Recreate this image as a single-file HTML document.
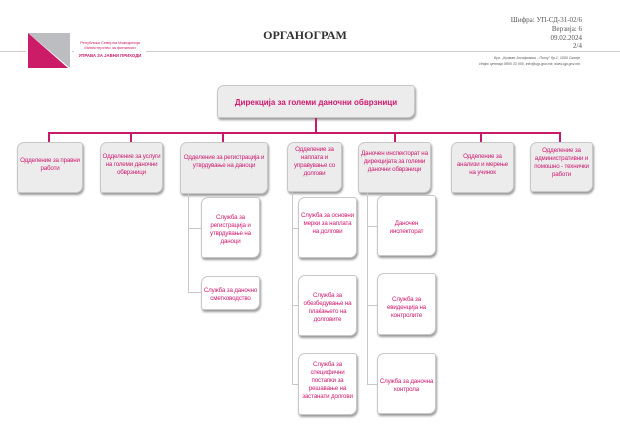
<!DOCTYPE html>
<html><head><meta charset="utf-8"><style>
body{margin:0;width:620px;height:438px;background:#fff;position:relative;overflow:hidden;font-family:"Liberation Sans",sans-serif}
.a{position:absolute}
.b{position:absolute;background:#ececec;border:1px solid #c8c8c8;border-radius:7px 3px 7px 3px;box-shadow:1px 2px 2px #999;color:#d0186e;font-size:6.2px;letter-spacing:-0.15px;line-height:8px;text-align:center;box-sizing:border-box;padding:0 1px}
.w{background:#fff}
.l{position:absolute;background:#c8c8c8}
.p{position:absolute;background:#c81a6a}
.r{position:absolute;right:38px;font-family:"Liberation Serif",serif;font-size:7px;color:#555;text-align:right}
</style></head><body>
<div class="a" style="left:0;top:51px;width:620px;height:1px;background:#ccc"></div>
<svg class="a" style="left:26px;top:31px" width="46" height="39"><rect width="46" height="39" fill="#fff"/><polygon points="2,2 44,2 44,37" fill="#bcbdc0"/><polygon points="2,2 2,37 42,37" fill="#cc1c68"/></svg>
<div class="a" style="left:74px;top:40px;width:72px;height:18px;background:#fff"></div>
<div class="a" style="left:78px;top:41px;font-size:4px;color:#cc1c68;line-height:4.5px;text-align:center;width:64px">Република Северна Македонија<br>Министерство за финансии</div>
<div class="a" style="left:78px;top:53px;font-size:4.3px;color:#cc1c68;font-weight:bold;width:64px;text-align:center">УПРАВА ЗА ЈАВНИ ПРИХОДИ</div>
<div class="a" style="left:0;top:28px;width:620px;text-align:center;font-family:'Liberation Serif',serif;font-weight:bold;font-size:12px;color:#333"><span style="position:relative;left:-5px">ОРГАНОГРАМ</span></div>
<div class="r" style="top:16px">Шифра: УП-СД-31-02/6</div>
<div class="r" style="top:25px">Верзија: 6</div>
<div class="r" style="top:34px">09.02.2024</div>
<div class="r" style="top:42px">2/4</div>
<div class="a" style="right:40px;top:55px;font-size:3.6px;color:#555;font-style:italic;text-align:right;line-height:6px">Бул. „Кузман Јосифовски - Питу" бр.1, 1000 Скопје<br>Инфо центар 0800 33 000, info@ujp.gov.mk; www.ujp.gov.mk</div>

<div class="b" style="left:217px;top:85px;width:198px;height:33px;font-size:8px;font-weight:bold;line-height:33px;letter-spacing:0">Дирекција за големи даночни обврзници</div>
<div class="p" style="left:315px;top:118px;width:2px;height:16px"></div>
<div class="p" style="left:48px;top:132px;width:513px;height:2px"></div>
<div class="p" style="left:48px;top:132px;width:2px;height:10px"></div>
<div class="p" style="left:130px;top:132px;width:2px;height:10px"></div>
<div class="p" style="left:222px;top:132px;width:2px;height:10px"></div>
<div class="p" style="left:394px;top:132px;width:2px;height:10px"></div>
<div class="p" style="left:480px;top:132px;width:2px;height:10px"></div>
<div class="p" style="left:559px;top:132px;width:2px;height:10px"></div>

<div class="b" style="left:17px;top:142px;width:66px;height:51px;padding-top:14px">Одделение за правни работи</div>
<div class="b" style="left:100px;top:142px;width:63px;height:51px;padding-top:10px">Одделение за услуги на големи даночни обврзници</div>
<div class="b" style="left:180px;top:142px;width:88px;height:52px;padding-top:11px">Одделение за регистрација и утврдување на даноци</div>
<div class="b" style="left:287px;top:142px;width:55px;height:50px;padding-top:3px">Одделение за наплата и управување со долгови</div>
<div class="b" style="left:358px;top:142px;width:73px;height:51px;padding-top:7px">Даночен инспекторат на дирекцијата за големи даночни обврзници</div>
<div class="b" style="left:451px;top:142px;width:63px;height:51px;padding-top:10px">Одделение за анализи и мерење на учинок</div>
<div class="b" style="left:530px;top:142px;width:63px;height:50px;padding-top:4px">Одделение за административни и помошно - технички работи</div>

<div class="l" style="left:188px;top:194px;width:1px;height:99px"></div>
<div class="l" style="left:188px;top:228px;width:13px;height:1px"></div>
<div class="l" style="left:188px;top:292px;width:13px;height:1px"></div>
<div class="l" style="left:292px;top:192px;width:1px;height:193px"></div>
<div class="l" style="left:292px;top:228px;width:6px;height:1px"></div>
<div class="l" style="left:292px;top:305px;width:6px;height:1px"></div>
<div class="l" style="left:292px;top:384px;width:6px;height:1px"></div>
<div class="l" style="left:367px;top:193px;width:1px;height:192px"></div>
<div class="l" style="left:367px;top:226px;width:10px;height:1px"></div>
<div class="l" style="left:367px;top:305px;width:10px;height:1px"></div>
<div class="l" style="left:367px;top:384px;width:10px;height:1px"></div>

<div class="b w" style="left:201px;top:197px;width:59px;height:61px;padding-top:16px">Служба за регистрација и утврдување на даноци</div>
<div class="b w" style="left:201px;top:276px;width:59px;height:34px;padding-top:10px">Служба за даночно сметководство</div>
<div class="b w" style="left:298px;top:197px;width:59px;height:61px;padding-top:14px">Служба за основни мерки за наплата на долгови</div>
<div class="b w" style="left:298px;top:275px;width:59px;height:61px;padding-top:16px">Служба за обезбедување на плаќањето на долговите</div>
<div class="b w" style="left:298px;top:353px;width:59px;height:62px;padding-top:7px">Служба за специфични постапки за решавање на застанати долгови</div>
<div class="b w" style="left:377px;top:195px;width:59px;height:61px;padding-top:24px">Даночен инспекторат</div>
<div class="b w" style="left:377px;top:273px;width:59px;height:62px;padding-top:22px">Служба за евиденција на контролите</div>
<div class="b w" style="left:377px;top:353px;width:59px;height:61px;padding-top:24px">Служба за даночна контрола</div>
</body></html>
